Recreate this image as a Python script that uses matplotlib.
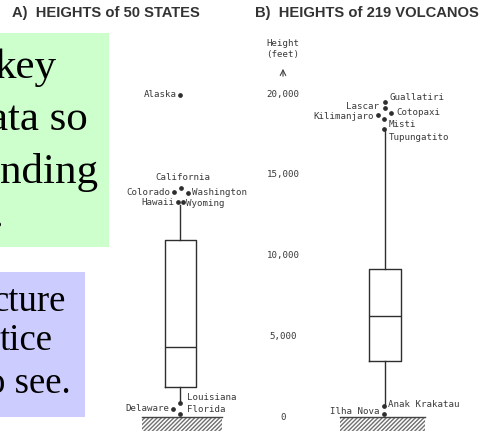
import matplotlib
matplotlib.use("Agg")
import matplotlib.pyplot as plt
from matplotlib.patches import Rectangle

# ---------------- data (feet) ----------------
state_box = dict(q1=1860, med=4330, q3=10960, whislo=870, whishi=13150)
state_names = ["Alaska", "California", "Colorado", "Washington", "Hawaii",
               "Wyoming", "Louisiana", "Delaware", "Florida"]
state_heights = [19940, 14180, 13930, 13900, 13310, 13310, 870, 500, 190]

volc_box = dict(q1=3470, med=6250, q3=9160, whislo=680, whishi=17830)
volc_names = ["Guallatiri", "Lascar", "Cotopaxi", "Kilimanjaro", "Misti",
              "Tupungatito", "Anak Krakatau", "Ilha Nova"]
volc_heights = [19500, 19130, 18820, 18700, 18450, 17830, 680, 190]

tick_values = [0, 5000, 10000, 15000, 20000]
tick_labels = ["0", "5,000", "10,000", "15,000", "20,000"]

# ---------------- layout ----------------
W, H = 488, 432
PX_PER_FT = 0.01615
ZERO_PX = 417
fig = plt.figure(figsize=(W / 100, H / 100), dpi=100)
fig.patch.set_facecolor("white")
ax = fig.add_axes([0, 0, 1, 1])
ax.set_xlim(0, W)
ax.set_ylim(-(H - ZERO_PX) / PX_PER_FT, ZERO_PX / PX_PER_FT)
ax.axis("off")

def px2ft(py):
    return (ZERO_PX - py) / PX_PER_FT

ink = "#2e2e2e"
lab_kw = dict(fontsize=6.6, color="#3a3a3a", family="DejaVu Sans Mono")

# box plots
pos_a, pos_b = 180, 385
for stats, pos, wd in [(state_box, pos_a, 31), (volc_box, pos_b, 32)]:
    s = dict(stats)
    s["fliers"] = []
    ax.bxp([s], positions=[pos], widths=wd, showcaps=False, showfliers=False,
           boxprops=dict(color=ink, lw=1.0),
           whiskerprops=dict(color=ink, lw=1.0),
           medianprops=dict(color=ink, lw=1.0))

# outlier placement (layout): dot x-offset, label offset (pixels), alignment
state_dx = [0, 1, -6, 8, -2, 3, 0, -7, 0]
state_lab = [(-3, 0, "right"), (2, 10, "center"), (-4, 0, "right"),
             (4, 0, "left"), (-4, 0, "right"), (3, -1, "left"),
             (7, 5, "left"), (-4, 0, "right"), (7, 4, "left")]
volc_dx = [0, 0, 6, -7, -1, -1, -1, -1]
volc_lab = [(5, 5, "left"), (-6, 2, "right"), (5, 1, "left"), (-4, -2, "right"),
            (5, -5, "left"), (5, -8, "left"), (4, 2, "left"), (-5, 2, "right")]

for names, hts, dxs, labs, pos in [(state_names, state_heights, state_dx, state_lab, pos_a),
                                   (volc_names, volc_heights, volc_dx, volc_lab, pos_b)]:
    for nm, h, dx, (ox, oy, ha) in zip(names, hts, dxs, labs):
        ax.plot(pos + dx, h, "o", ms=2.4, color=ink, mec=ink)
        ax.annotate(nm, (pos + dx, h), xytext=(ox, oy), textcoords="offset pixels",
                    ha=ha, va="center", **lab_kw)

# ground hatching
for x0, x1 in [(142, 222), (340, 425)]:
    ax.add_patch(Rectangle((x0, -860), x1 - x0, 860, facecolor="white",
                           edgecolor="#6f6f6f", hatch="////////", lw=0))
    ax.plot([x0, x1], [0, 0], color="#444444", lw=1.0)

# height scale
for v, t in zip(tick_values, tick_labels):
    ax.text(283, v, t, ha="center", va="center", **lab_kw)
ax.text(283, px2ft(44), "Height", ha="center", va="center", **lab_kw)
ax.text(283, px2ft(55), "(feet)", ha="center", va="center", **lab_kw)
ax.annotate("", xy=(283, px2ft(66)), xytext=(283, px2ft(79)),
            arrowprops=dict(arrowstyle="->", color="#444444", lw=0.8))

# titles
fig.text(12 / W, 1 - 13 / H, "A)  HEIGHTS of 50 STATES", ha="left", va="center",
         fontsize=10.6, fontweight="bold", color="#333333", family="Liberation Sans")
fig.text(255 / W, 1 - 13 / H, "B)  HEIGHTS of 219 VOLCANOS", ha="left", va="center",
         fontsize=10.6, fontweight="bold", color="#333333", family="Liberation Sans")

# slide overlay text boxes
fig.patches.append(Rectangle((0, 1 - 247 / H), 109 / W, 214 / H, transform=fig.transFigure,
                             facecolor="#ccffcc", edgecolor="none", zorder=5))
fig.patches.append(Rectangle((0, 1 - 417 / H), 85 / W, 145 / H, transform=fig.transFigure,
                             facecolor="#ccccff", edgecolor="none", zorder=5))
serif = dict(family="Liberation Serif", color="black", va="baseline", ha="right", zorder=6)
for txt, xr, yb in [("key", 56, 78), ("ata so", 88, 130), ("nding", 98, 183), (".", 3, 227)]:
    fig.text(xr / W, 1 - yb / H, txt, fontsize=31, **serif)
for txt, xr, yb in [("cture", 66, 311), ("tice", 53, 350), ("o see.", 71, 393)]:
    fig.text(xr / W, 1 - yb / H, txt, fontsize=26.5, **serif)

fig.savefig("out.png", dpi=100)
